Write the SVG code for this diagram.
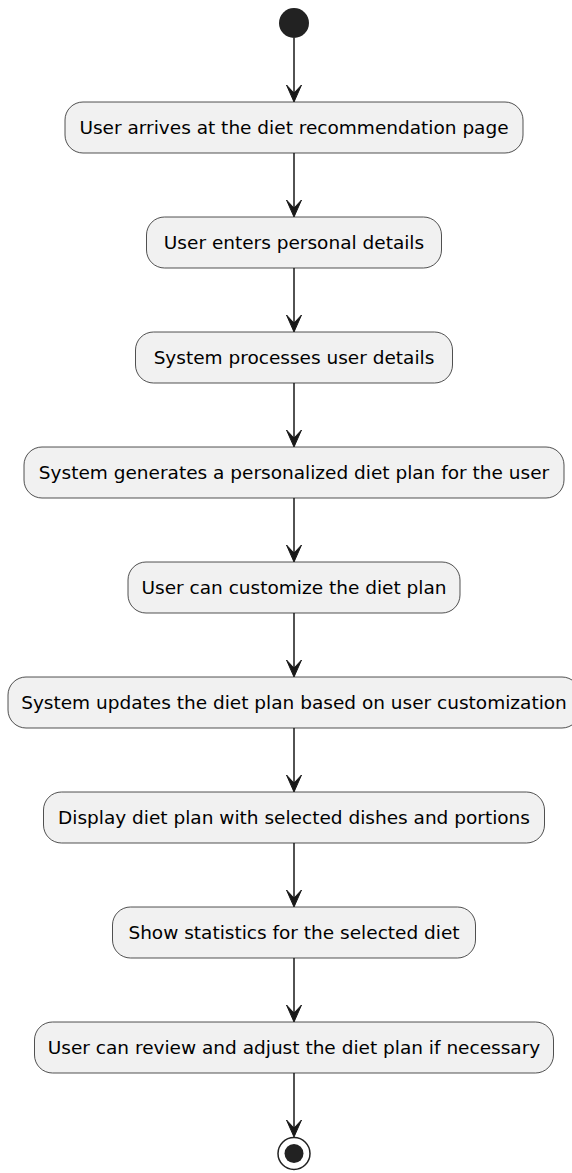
<svg xmlns="http://www.w3.org/2000/svg" width="572" height="1173" viewBox="0 0 572 1173">
<style>
.act rect{fill:#F1F1F1;stroke:#181818;stroke-width:0.75}
.act text{font-family:"DejaVu Sans",sans-serif;font-size:18.5px;fill:#000;text-anchor:middle}
.edge line{stroke:#181818;stroke-width:1.5}
.edge polygon{fill:#181818;stroke:#181818;stroke-width:1}
</style>
<rect width="572" height="1173" fill="#FFFFFF"/>
<g id="start"><circle cx="294" cy="23" r="15" fill="#222222"/></g>
<g id="n1" class="act"><rect x="65" y="102" width="458" height="51" rx="18"/><text x="294" y="134">User arrives at the diet recommendation page</text></g>
<g id="n2" class="act"><rect x="146.5" y="217" width="295" height="51" rx="18"/><text x="294" y="249">User enters personal details</text></g>
<g id="n3" class="act"><rect x="135.5" y="332" width="317" height="51" rx="18"/><text x="294" y="364">System processes user details</text></g>
<g id="n4" class="act"><rect x="24" y="447" width="540" height="51" rx="18"/><text x="294" y="479">System generates a personalized diet plan for the user</text></g>
<g id="n5" class="act"><rect x="128" y="562" width="332" height="51" rx="18"/><text x="294" y="594">User can customize the diet plan</text></g>
<g id="n6" class="act"><rect x="8" y="677" width="572" height="51" rx="18"/><text x="294" y="709">System updates the diet plan based on user customization</text></g>
<g id="n7" class="act"><rect x="43.5" y="792" width="501" height="51" rx="18"/><text x="294" y="824">Display diet plan with selected dishes and portions</text></g>
<g id="n8" class="act"><rect x="112.5" y="907" width="363" height="51" rx="18"/><text x="294" y="939">Show statistics for the selected diet</text></g>
<g id="n9" class="act"><rect x="34.5" y="1022" width="519" height="51" rx="18"/><text x="294" y="1054">User can review and adjust the diet plan if necessary</text></g>
<g id="end"><circle cx="294" cy="1153.5" r="16" fill="none" stroke="#222222" stroke-width="1.5"/><circle cx="294" cy="1153.5" r="9.5" fill="#222222"/></g>
<g id="connectors" class="edge">
<line x1="294" y1="38" x2="294" y2="96"/><polygon points="286.5,85 294,102 301.5,85 294,93"/>
<line x1="294" y1="153" x2="294" y2="211"/><polygon points="286.5,200 294,217 301.5,200 294,208"/>
<line x1="294" y1="268" x2="294" y2="326"/><polygon points="286.5,315 294,332 301.5,315 294,323"/>
<line x1="294" y1="383" x2="294" y2="441"/><polygon points="286.5,430 294,447 301.5,430 294,438"/>
<line x1="294" y1="498" x2="294" y2="556"/><polygon points="286.5,545 294,562 301.5,545 294,553"/>
<line x1="294" y1="613" x2="294" y2="671"/><polygon points="286.5,660 294,677 301.5,660 294,668"/>
<line x1="294" y1="728" x2="294" y2="786"/><polygon points="286.5,775 294,792 301.5,775 294,783"/>
<line x1="294" y1="843" x2="294" y2="901"/><polygon points="286.5,890 294,907 301.5,890 294,898"/>
<line x1="294" y1="958" x2="294" y2="1016"/><polygon points="286.5,1005 294,1022 301.5,1005 294,1013"/>
<line x1="294" y1="1073" x2="294" y2="1131"/><polygon points="286.5,1120 294,1137 301.5,1120 294,1128"/>
</g>
</svg>
